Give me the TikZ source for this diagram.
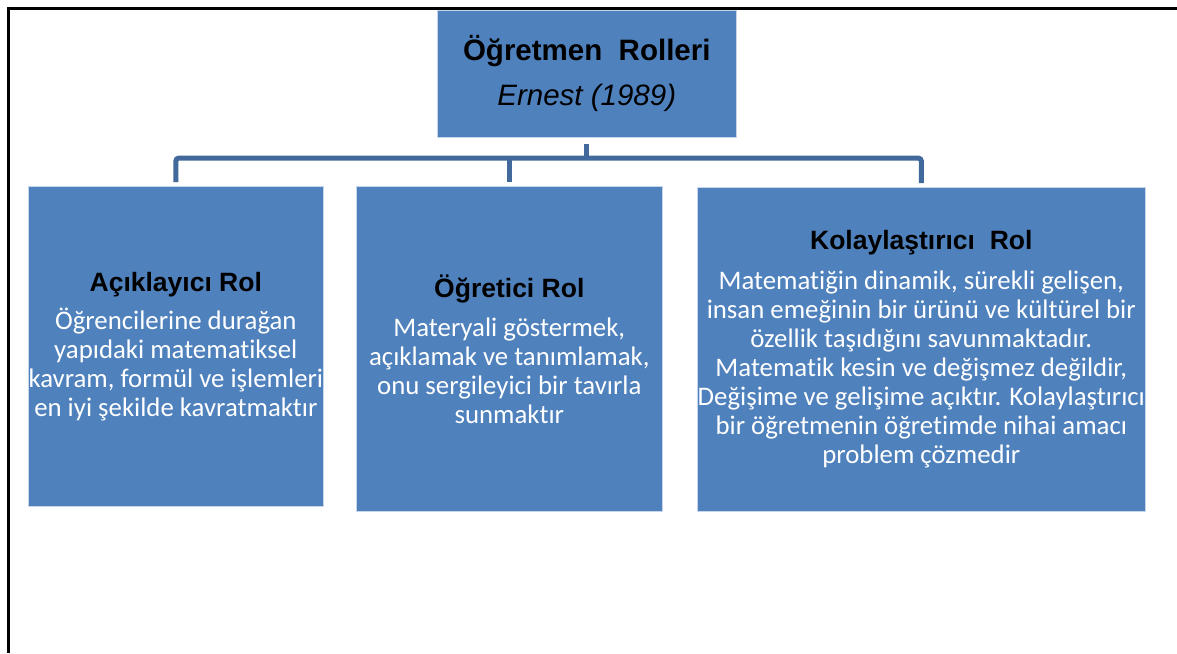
\documentclass[tikz,border=0pt]{standalone}
\usepackage{fontspec}
\setmainfont[Ligatures=NoCommon]{Carlito}
\newfontfamily\arialfont{Liberation Sans}
\definecolor{boxblue}{HTML}{4F81BD}
\definecolor{connblue}{HTML}{41699B}
\definecolor{boxedge}{HTML}{C6D5EA}
\begin{document}
\begin{tikzpicture}[x=1pt,y=-1pt,
  rolebox/.style={rectangle, fill=boxblue, draw=boxedge, line width=0.6pt, inner sep=0pt,
    align=center, anchor=north west, text=white, font=\fontsize{26.8}{29}\selectfont},
  conn/.style={draw=connblue, line width=5pt, rounded corners=3pt},
  frameline/.style={line width=3pt, black}]
\newcommand{\roletitle}[1]{{\arialfont\bfseries\fontsize{26.5}{29}\selectfont\color{black}#1}}
\useasboundingbox (0,0) rectangle (1177,653);
\draw[frameline] (8,653) -- (8,8) -- (1177,8);

\node[rolebox, minimum width=299pt, minimum height=127pt, text=black,
  font=\arialfont\fontsize{29.5}{41}\selectfont] (top) at (437,10)
  {\textbf{Öğretmen\ \ Rolleri}\\[4pt]\textit{Ernest (1989)}};

\node[rolebox, minimum width=295pt, minimum height=320pt] (b1) at (28,186)
  {\roletitle{Açıklayıcı Rol}\\[9pt]
   Öğrencilerine durağan\\
   yapıdaki matematiksel\\
   kavram, formül ve işlemleri\\
   en iyi şekilde kavratmaktır};

\node[rolebox, minimum width=306pt, minimum height=325pt] (b2) at (356,186)
  {\roletitle{Öğretici Rol}\\[10pt]
   Materyali göstermek,\\
   açıklamak ve tanımlamak,\\
   onu sergileyici bir tavırla\\
   sunmaktır};

\node[rolebox, minimum width=448pt, minimum height=324pt] (b3) at (697,187)
  {\roletitle{Kolaylaştırıcı\ \ Rol}\\[11pt]
   Matematiğin dinamik, sürekli gelişen,\\
   insan emeğinin bir ürünü ve kültürel bir\\
   özellik taşıdığını savunmaktadır.\\
   Matematik kesin ve değişmez değildir,\\
   Değişime ve gelişime açıktır. Kolaylaştırıcı\\
   bir öğretmenin öğretimde nihai amacı\\
   problem çözmedir};

\path (top.south) ++(0,20.5) coordinate (bus);
\draw[conn, shorten <=4pt, shorten >=4pt] (b1.north) |- (bus) -| (b3.north);
\draw[conn, rounded corners=0pt, shorten <=6pt] (top.south) -- (bus);
\draw[conn, rounded corners=0pt, shorten >=4pt] (bus -| b2.north) -- (b2.north);
\end{tikzpicture}
\end{document}
